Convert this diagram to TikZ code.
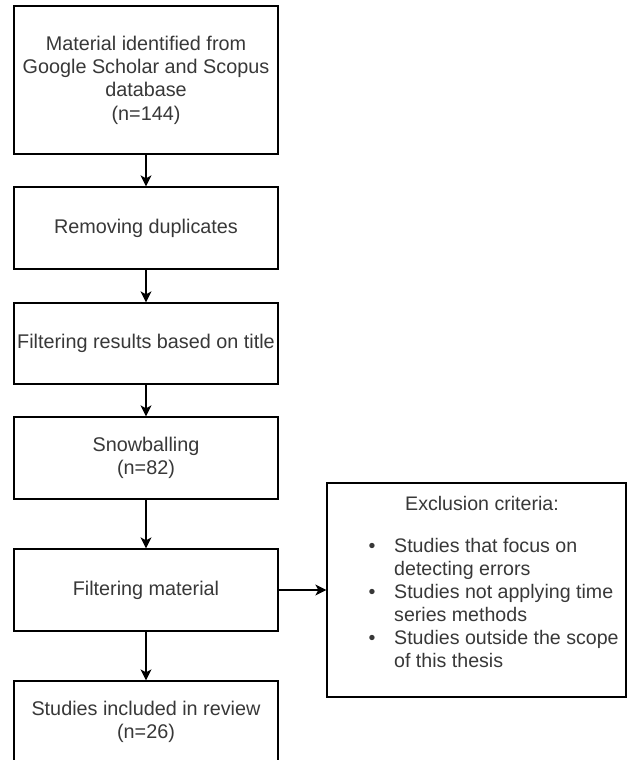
\documentclass[tikz,border=0pt]{standalone}
\usepackage{fontspec}
\setmainfont{Liberation Sans}
\usetikzlibrary{arrows.meta}
\tikzset{
  box/.style={draw=black, line width=1.3pt, fill=white, minimum width=264pt, inner sep=0pt, align=center,
    font=\fontsize{19.8}{23.3}\selectfont, text=black!78},
  arr/.style={draw=black, line width=1.3pt, -{Stealth[length=11pt,width=11pt,inset=3pt]}},
  ln/.style={anchor=base west, inner sep=0pt, font=\fontsize{19.6}{23.3}\selectfont, text=black!78},
  bul/.style={anchor=base, inner sep=0pt, font=\fontsize{19.6}{23.3}\selectfont, text=black!78}
}
\begin{document}
\begin{tikzpicture}[x=1pt,y=-1pt]
\useasboundingbox (0,0) rectangle (627,760);
\clip (0,0) rectangle (627,760);
\fill[white] (0,0) rectangle (627,760);
\node[box, minimum height=148pt] (b1) at (146,80) {Material identified from\\Google Scholar and Scopus\\database\\(n=144)};
\node[box, minimum height=82pt] (b2) at (146,228) {Removing duplicates};
\node[box, minimum height=81pt] (b3) at (146,343.5) {Filtering results based on title};
\node[box, minimum height=82pt] (b4) at (146,458) {Snowballing\\(n=82)};
\node[box, minimum height=82pt] (b5) at (146,590) {Filtering material};
\node[box, minimum height=82pt] (b6) at (146,722) {Studies included in review\\(n=26)};
\node[box, minimum width=299pt, minimum height=214pt] (excl) at (476.5,590) {};
\node[bul] (t0) at (482,510) {Exclusion criteria:};
\node[bul] (u1) at (372,552) {•};
\node[ln] (l1) at (394,552) {Studies that focus on};
\node[ln] (l2) at (394,575) {detecting errors};
\node[bul] (u2) at (372,598) {•};
\node[ln] (l3) at (394,598) {Studies not applying time};
\node[ln] (l4) at (394,621) {series methods};
\node[bul] (u3) at (372,644) {•};
\node[ln] (l5) at (394,644) {Studies outside the scope};
\node[ln] (l6) at (394,667) {of this thesis};
\draw[arr] (b1) -- (b2);
\draw[arr] (b2) -- (b3);
\draw[arr] (b3) -- (b4);
\draw[arr] (b4) -- (b5);
\draw[arr] (b5) -- (b6);
\draw[arr] (b5) -- (excl);
\end{tikzpicture}
\end{document}
